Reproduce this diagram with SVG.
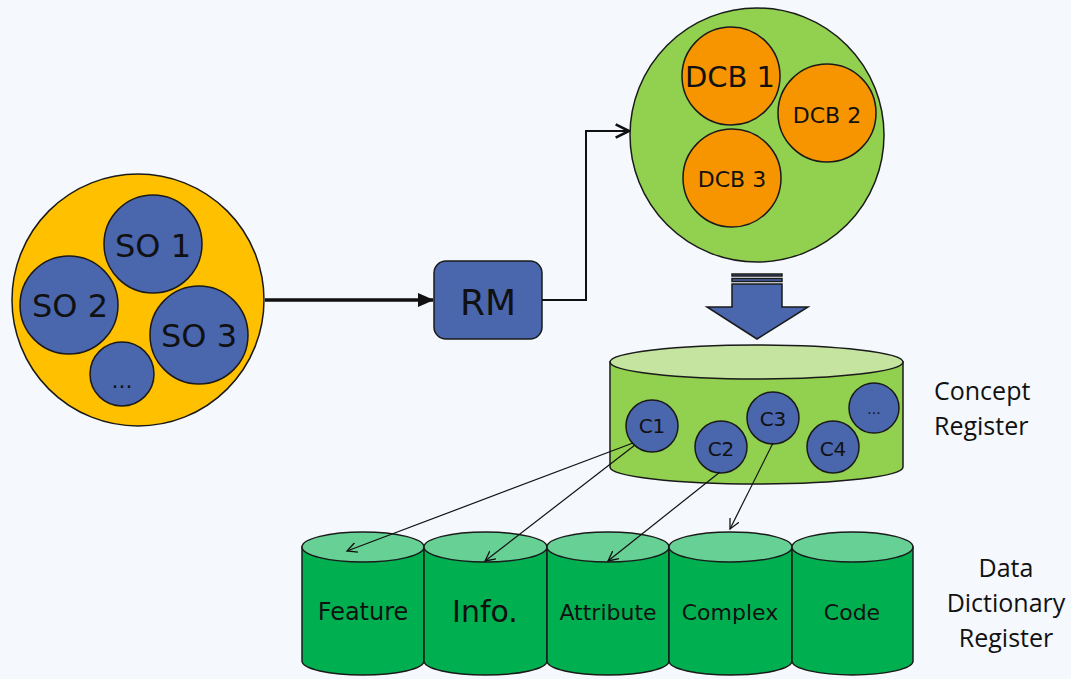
<svg xmlns="http://www.w3.org/2000/svg" width="1071" height="679" viewBox="0 0 1071 679">
<style>
.bg{fill:#f5f8fc}
.sk{stroke:#1a1a1a;stroke-width:1.5}
.blue{fill:#4a66ad}
.org{fill:#f79500}
.yel{fill:#ffc000}
.lg{fill:#92d050}
.lgt{fill:#c4e4a0}
.dg{fill:#00b050}
.dgt{fill:#66d095}
.t{font-family:"DejaVu Sans",Verdana,sans-serif;fill:#111;text-anchor:middle}
.s{font-family:"Open Sans","Liberation Sans",sans-serif;fill:#111;font-size:25px}
.ln{stroke:#111;fill:none}
</style>
<defs>
<marker id="open" markerWidth="12" markerHeight="12" refX="10" refY="5" orient="auto" markerUnits="userSpaceOnUse" viewBox="0 0 12 10">
<path d="M0,0 L10,5 L0,10" fill="none" stroke="#111" stroke-width="1.3"/>
</marker>
<marker id="openB" markerWidth="16" markerHeight="16" refX="11" refY="6" orient="auto" markerUnits="userSpaceOnUse" viewBox="0 0 12 12">
<path d="M1,1 L11,6 L1,11" fill="none" stroke="#111" stroke-width="2"/>
</marker>
<marker id="fill" markerWidth="16" markerHeight="14" refX="15" refY="7" orient="auto" markerUnits="userSpaceOnUse" viewBox="0 0 16 14">
<path d="M0,0 L16,7 L0,14 Z" fill="#111"/>
</marker>
</defs>
<rect class="bg" x="0" y="0" width="1071" height="679"/>

<g id="source-objects">
<circle class="yel sk" cx="138" cy="300" r="126"/>
<circle class="blue sk" cx="153" cy="244" r="49"/>
<text class="t" x="153" y="257" font-size="32">SO 1</text>
<circle class="blue sk" cx="69" cy="305" r="49"/>
<text class="t" x="70" y="317" font-size="32">SO 2</text>
<circle class="blue sk" cx="199" cy="335" r="49"/>
<text class="t" x="199" y="347" font-size="32">SO 3</text>
<circle class="blue sk" cx="122" cy="374" r="32"/>
<text class="t" x="122" y="388" font-size="22">...</text>
</g>

<g id="rm">
<rect class="blue sk" x="434" y="261" width="108" height="78" rx="12"/>
<text class="t" x="488" y="315" font-size="36">RM</text>
</g>

<g id="dcb">
<circle class="lg sk" cx="757" cy="135" r="127"/>
<circle class="org sk" cx="731" cy="76" r="49"/>
<text class="t" x="730" y="87" font-size="29">DCB 1</text>
<circle class="org sk" cx="827" cy="113" r="49"/>
<text class="t" x="827" y="123" font-size="22">DCB 2</text>
<circle class="org sk" cx="732" cy="178" r="49"/>
<text class="t" x="732" y="187" font-size="22">DCB 3</text>
</g>

<g id="block-arrow">
<rect class="blue sk" x="732" y="274" width="50" height="2" stroke-width="1"/>
<rect class="blue sk" x="732" y="278.5" width="50" height="3" stroke-width="1"/>
<polygon class="blue sk" points="732,284 782,284 782,307 808,307 757,339 707,307 732,307"/>
</g>

<g id="concept-register">
<path class="lg sk" d="M610,362 L610,467 A146.5,17 0 0 0 903,467 L903,362 Z"/>
<ellipse class="lgt sk" cx="756.5" cy="362" rx="146.5" ry="17"/>
<circle class="blue sk" cx="652" cy="426" r="26"/>
<text class="t" x="652" y="433" font-size="20">C1</text>
<circle class="blue sk" cx="721" cy="447" r="26"/>
<text class="t" x="721" y="456" font-size="20">C2</text>
<circle class="blue sk" cx="773" cy="418" r="26"/>
<text class="t" x="773" y="426" font-size="20">C3</text>
<circle class="blue sk" cx="833" cy="447" r="26"/>
<text class="t" x="833" y="456" font-size="20">C4</text>
<circle class="blue sk" cx="874" cy="408" r="25"/>
<text class="t" x="874" y="414" font-size="14">...</text>
<text class="s" x="934" y="400">Concept</text>
<text class="s" x="934" y="435">Register</text>
</g>

<g id="cyl-feature">
<path class="dg sk" d="M302,547 L302,661 A61,14 0 0 0 424,661 L424,547 Z"/>
<ellipse class="dgt sk" cx="363" cy="547" rx="61" ry="15"/>
<text class="t" x="363" y="620" font-size="24">Feature</text>
</g>
<g id="cyl-info">
<path class="dg sk" d="M424,547 L424,661 A61.5,14 0 0 0 547,661 L547,547 Z"/>
<ellipse class="dgt sk" cx="485.5" cy="547" rx="61.5" ry="15"/>
<text class="t" x="485" y="622" font-size="30">Info.</text>
</g>
<g id="cyl-attribute">
<path class="dg sk" d="M547,547 L547,661 A61,14 0 0 0 669,661 L669,547 Z"/>
<ellipse class="dgt sk" cx="608" cy="547" rx="61" ry="15"/>
<text class="t" x="608" y="620" font-size="22">Attribute</text>
</g>
<g id="cyl-complex">
<path class="dg sk" d="M669,547 L669,661 A61.5,14 0 0 0 792,661 L792,547 Z"/>
<ellipse class="dgt sk" cx="730.5" cy="547" rx="61.5" ry="15"/>
<text class="t" x="730" y="620" font-size="22">Complex</text>
</g>
<g id="cyl-code">
<path class="dg sk" d="M792,547 L792,661 A60.5,14 0 0 0 913,661 L913,547 Z"/>
<ellipse class="dgt sk" cx="852.5" cy="547" rx="60.5" ry="15"/>
<text class="t" x="852" y="620" font-size="22">Code</text>
</g>
<g id="dd-label">
<text class="s" x="1006" y="577" text-anchor="middle">Data</text>
<text class="s" x="1006" y="612" text-anchor="middle">Dictionary</text>
<text class="s" x="1006" y="647" text-anchor="middle">Register</text>
</g>

<g id="connectors">
<line class="ln" x1="265" y1="300" x2="433" y2="300" stroke-width="3.5" marker-end="url(#fill)"/>
<polyline class="ln" points="542,300 586,300 586,131 629,131" stroke-width="2" marker-end="url(#openB)"/>
<line class="ln" x1="633" y1="443" x2="347" y2="551" stroke-width="1.2" marker-end="url(#open)"/>
<line class="ln" x1="635" y1="445" x2="485" y2="561" stroke-width="1.2" marker-end="url(#open)"/>
<line class="ln" x1="720" y1="472" x2="608" y2="561" stroke-width="1.2" marker-end="url(#open)"/>
<line class="ln" x1="773" y1="443" x2="730" y2="529" stroke-width="1.2" marker-end="url(#open)"/>
</g>
</svg>
